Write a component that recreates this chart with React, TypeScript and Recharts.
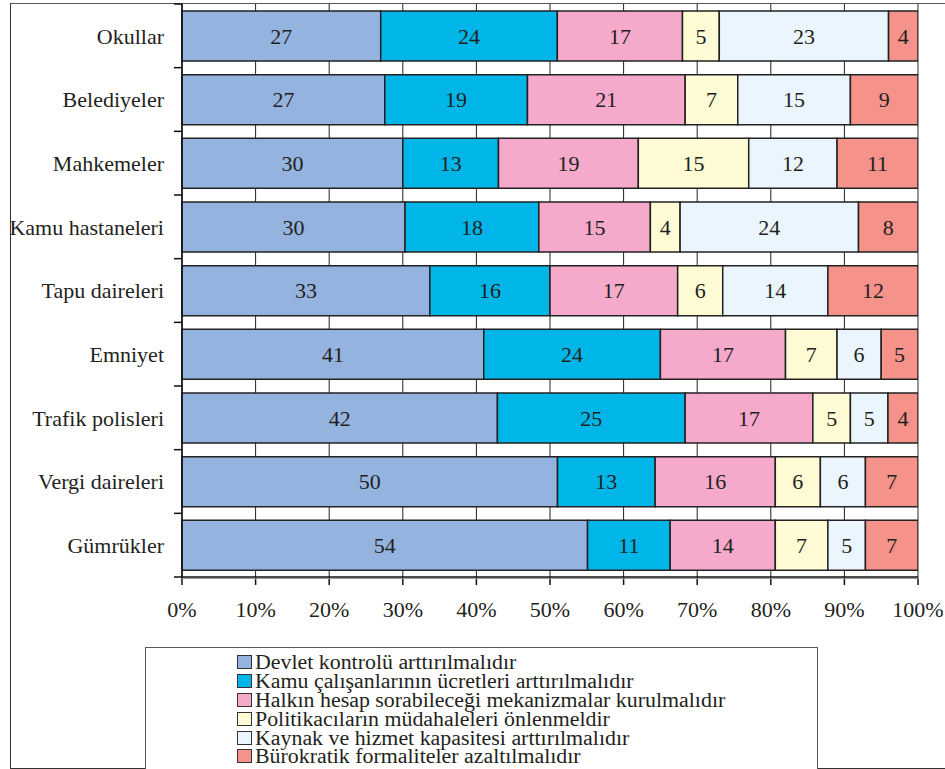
import { Bar, BarChart, CartesianGrid, LabelList, XAxis, YAxis } from "recharts"

const categories = [
  "Okullar",
  "Belediyeler",
  "Mahkemeler",
  "Kamu hastaneleri",
  "Tapu daireleri",
  "Emniyet",
  "Trafik polisleri",
  "Vergi daireleri",
  "Gümrükler",
]

const seriesNames = [
  "Devlet kontrolü arttırılmalıdır",
  "Kamu çalışanlarının ücretleri arttırılmalıdır",
  "Halkın hesap sorabileceği mekanizmalar kurulmalıdır",
  "Politikacıların müdahaleleri önlenmeldir",
  "Kaynak ve hizmet kapasitesi arttırılmalıdır",
  "Bürokratik formaliteler azaltılmalıdır",
]

const devlet = [27, 27, 30, 30, 33, 41, 42, 50, 54]
const ucret = [24, 19, 13, 18, 16, 24, 25, 13, 11]
const hesap = [17, 21, 19, 15, 17, 17, 17, 16, 14]
const politika = [5, 7, 15, 4, 6, 7, 5, 6, 7]
const kapasite = [23, 15, 12, 24, 14, 6, 5, 6, 5]
const burokrasi = [4, 9, 11, 8, 12, 5, 4, 7, 7]

const tickValues = [0, 0.1, 0.2, 0.3, 0.4, 0.5, 0.6, 0.7, 0.8, 0.9, 1]
const tickLabels = ["0%", "10%", "20%", "30%", "40%", "50%", "60%", "70%", "80%", "90%", "100%"]

const colors = ["#95b3df", "#00b5e8", "#f5a9cb", "#fffbd5", "#eaf5fd", "#f5928a"]
const keys = ["s0", "s1", "s2", "s3", "s4", "s5"]
const seriesValues = [devlet, ucret, hesap, politika, kapasite, burokrasi]

const data = categories.map((name, i) => {
  const row: Record<string, string | number> = { name }
  keys.forEach((k, j) => {
    row[k] = seriesValues[j][i]
  })
  return row
})

const font = "'Liberation Serif', 'Times New Roman', serif"
const ink = "#231f20"

const W = 945
const H = 769
const margin = { top: 4, right: 27, bottom: 152, left: 0 }
const yAxisWidth = 182
const xAxisHeight = 40
const labelGap = 18
const halfBand = (H - margin.top - margin.bottom - xAxisHeight) / categories.length / 2

// category label plus the short tick marks at the band edges
function CategoryTick(props: any) {
  const { x, y, payload, index } = props
  const axisX = x + labelGap
  return (
    <g>
      <text x={x} y={y} dy="0.355em" textAnchor="end" fontFamily={font} fontSize={22} fill={ink}>
        {payload.value}
      </text>
      <line x1={axisX - 8} x2={axisX} y1={y + halfBand} y2={y + halfBand} stroke="#111" strokeWidth={1.5} />
      {index === 0 && (
        <line x1={axisX - 8} x2={axisX} y1={y - halfBand} y2={y - halfBand} stroke="#111" strokeWidth={1.5} />
      )}
    </g>
  )
}

export default function App() {
  return (
    <div style={{ position: "absolute", left: 0, top: 0, width: W, height: H, background: "#fff", overflow: "hidden" }}>
      {/* outer frame */}
      <div
        style={{
          position: "absolute",
          left: 10,
          top: 3,
          width: 960,
          height: 764,
          borderLeft: "1.5px solid #333",
          borderTop: "1.5px solid #555",
          borderBottom: "1.5px solid #333",
        }}
      />
      <div style={{ position: "absolute", left: 0, top: 0 }}>
        <BarChart
          width={W}
          height={H}
          data={data}
          layout="vertical"
          stackOffset="expand"
          barSize={50}
          margin={margin}
        >
          <CartesianGrid horizontal={false} vertical stroke="#222" strokeWidth={1} />
          <XAxis
            type="number"
            domain={[0, 1]}
            ticks={tickValues}
            tickFormatter={(v: number) => tickLabels[tickValues.indexOf(v)] ?? ""}
            height={xAxisHeight}
            stroke="#111"
            strokeWidth={1.5}
            tickSize={8}
            tickMargin={16}
            tick={{ fontFamily: font, fontSize: 22, fill: ink }}
            interval={0}
          />
          <YAxis
            type="category"
            dataKey="name"
            width={yAxisWidth}
            stroke="#111"
            strokeWidth={1.5}
            tickLine={false}
            tickSize={0}
            tickMargin={labelGap}
            tick={<CategoryTick />}
            interval={0}
          />
          {keys.map((k, j) => (
            <Bar
              key={k}
              dataKey={k}
              name={seriesNames[j]}
              stackId="a"
              fill={colors[j]}
              stroke="#222"
              strokeWidth={1.5}
              isAnimationActive={false}
            >
              <LabelList dataKey={k} position="center" fill={ink} fontFamily={font} fontSize={22} />
            </Bar>
          ))}
        </BarChart>
      </div>
      {/* plot area border */}
      <div
        style={{
          position: "absolute",
          left: 182,
          top: 4,
          width: 736,
          height: 574,
          borderRight: "1.5px solid #999",
          borderBottom: "1.5px solid #999",
          pointerEvents: "none",
        }}
      />
      {/* legend */}
      <div
        style={{
          position: "absolute",
          left: 145,
          top: 647,
          width: 671,
          height: 130,
          border: "1.5px solid #555",
          background: "#fff",
        }}
      >
        <div style={{ position: "absolute", left: 91, top: 5 }}>
          {seriesNames.map((n, j) => (
            <div key={n} style={{ display: "flex", alignItems: "center", height: 18.8 }}>
              <span
                style={{
                  width: 13,
                  height: 12,
                  background: colors[j],
                  border: "1.5px solid #333",
                  marginRight: 3,
                  flex: "none",
                }}
              />
              <span
                style={{
                  fontFamily: font,
                  fontSize: 20,
                  color: ink,
                  whiteSpace: "nowrap",
                  display: "inline-block",
                  transform: "scaleX(1.094)",
                  transformOrigin: "left center",
                  lineHeight: "18px",
                }}
              >
                {n}
              </span>
            </div>
          ))}
        </div>
      </div>
    </div>
  )
}
